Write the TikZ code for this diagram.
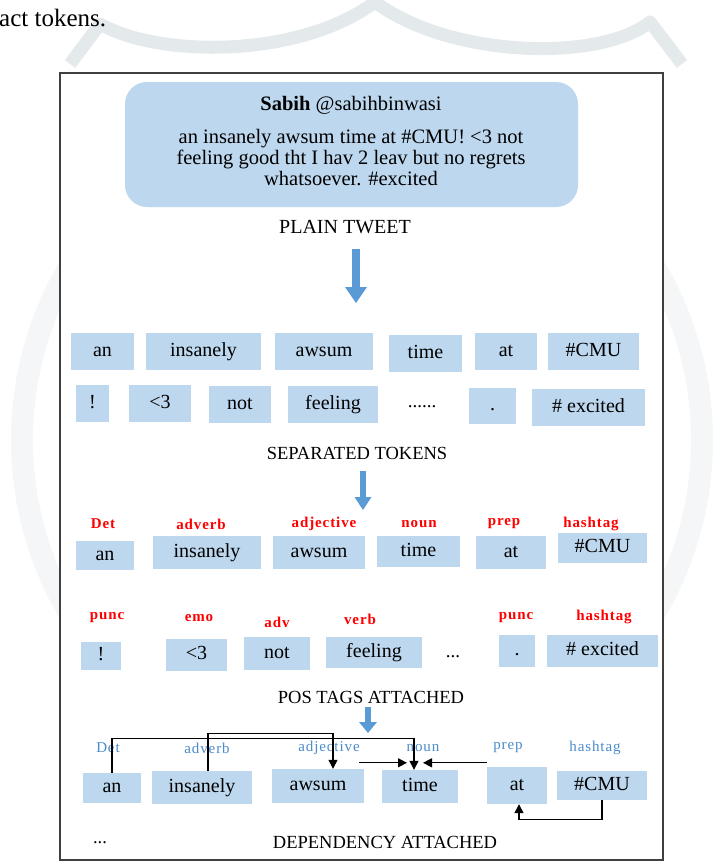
\documentclass[tikz,border=0pt]{standalone}
\usepackage{fontspec}
\setmainfont{Liberation Serif}
\newfontfamily\tagfont[LetterSpace=6]{Liberation Serif}
\usetikzlibrary{arrows.meta,positioning}
\definecolor{tokblue}{HTML}{BDD7EE}
\definecolor{arrowblue}{HTML}{5B9BD5}
\definecolor{tagred}{HTML}{FF0000}
\definecolor{tagblue}{HTML}{4A8BCB}
\definecolor{framegray}{HTML}{404040}
\definecolor{markgray}{HTML}{E4EAEC}
\definecolor{ringgray}{HTML}{F4F6F7}

\begin{document}
\begin{tikzpicture}[x=1pt, y=-1pt,
    tok/.style={fill=tokblue, inner sep=0pt, font=\fontsize{20}{22}\selectfont, text height=13.5pt, text depth=4pt},
    caption/.style={font=\fontsize{18.5}{21}\selectfont},
    postag/.style={font=\tagfont\bfseries\fontsize{15}{17}\selectfont, text=tagred},
    deptag/.style={font=\tagfont\fontsize{15}{17}\selectfont, text=tagblue},
    bigarrow/.style={draw=arrowblue},
    dep/.style={draw=black, line width=1.3pt, -{Triangle[width=9pt,length=9pt]}}
]
    \useasboundingbox (0,0) rectangle (725,865);

    % Watermark behind the page
    \draw[ringgray, line width=22pt] (362,440) circle (340);
    \draw[markgray, line width=13pt, line join=round]
        (70,64) -- (100,24) .. controls (160,58) and (300,58) .. (375,2)
        .. controls (450,58) and (600,62) .. (650,22) -- (682,64);
    \node[anchor=base west, inner sep=0pt, font=\fontsize{25}{28}\selectfont] (context) at (-1,26) {act tokens.};

    % Frame
    \draw[framegray, line width=1.5pt, fill=white] (60,73) rectangle (663,860);

    % Tweet
    \node[fill=tokblue, rounded corners=22pt, minimum width=453pt, minimum height=125pt, inner sep=0pt] (bubble) at (351.5,144.5) {};
    \node[align=center, font=\fontsize{20.5}{21}\selectfont] (tweet) at (351,141) {
        \textbf{Sabih} @sabihbinwasi\\[12pt]
        an insanely awsum time at \#CMU! <3 not\\
        feeling good tht I hav 2 leav but no regrets\\
        whatsoever. \#excited
    };
    \node[caption, font=\fontsize{20}{22}\selectfont] (plain) at (345,227) {PLAIN TWEET};

    \coordinate (arr1s) at (356,249);
    \coordinate (arr1e) at (356,303);
    \draw[bigarrow, line width=8pt, -{Triangle[width=22pt,length=16pt,line width=0pt]}] (arr1s) -- (arr1e);

    % Separated tokens
    \node[tok, minimum width=63pt, minimum height=37pt] (an1) at (102.5,351.5) {an};
    \node[tok, minimum width=115pt, minimum height=37pt] (ins1) at (203.5,351.5) {insanely};
    \node[tok, minimum width=98pt, minimum height=37pt] (aws1) at (324,351.5) {awsum};
    \node[tok, minimum width=73pt, minimum height=37pt] (time1) at (425.5,353.5) {time};
    \node[tok, minimum width=62pt, minimum height=37pt] (at1) at (506,351.5) {at};
    \node[tok, minimum width=91pt, minimum height=37pt] (cmu1) at (593.5,351.5) {\#CMU};

    \node[tok, minimum width=33pt, minimum height=37pt] (excl2) at (92.5,403.5) {!};
    \node[tok, minimum width=62pt, minimum height=37pt] (emo2) at (160,403.5) {<3};
    \node[tok, minimum width=62pt, minimum height=37pt] (not2) at (240,404.5) {not};
    \node[tok, minimum width=90pt, minimum height=37pt] (feel2) at (333,404.5) {feeling};
    \node[font=\fontsize{19}{21}\selectfont] (dots2) at (422,407) {......};
    \node[tok, minimum width=47pt, minimum height=36pt] (stop2) at (492.5,406) {.};
    \node[tok, minimum width=113pt, minimum height=37pt] (exc2) at (588.5,407.5) {\# excited};

    \node[caption] (septok) at (357,453) {SEPARATED TOKENS};

    \coordinate (arr2s) at (363,471);
    \coordinate (arr2e) at (363,510);
    \draw[bigarrow, line width=6pt, -{Triangle[width=17pt,length=13pt,line width=0pt]}] (arr2s) -- (arr2e);

    % POS tags
    \node[postag] (det3) at (103,524) {Det};
    \node[postag] (adverb3) at (201,524) {adverb};
    \node[postag] (adj3) at (324,524) {adjective};
    \node[postag] (noun3) at (419,524) {noun};
    \node[postag] (prep3) at (504,524) {prep};
    \node[postag] (hash3) at (591,524) {hashtag};

    \node[tok, minimum width=58pt, minimum height=29pt] (an3) at (105,555.5) {an};
    \node[tok, minimum width=108pt, minimum height=33pt] (ins3) at (207,552.5) {insanely};
    \node[tok, minimum width=92pt, minimum height=33pt] (aws3) at (319,552.5) {awsum};
    \node[tok, minimum width=83pt, minimum height=31pt] (time3) at (418.5,551.5) {time};
    \node[tok, minimum width=70pt, minimum height=33pt] (at3) at (511,552.5) {at};
    \node[tok, minimum width=89pt, minimum height=30pt] (cmu3) at (602.5,548) {\#CMU};

    \node[postag] (punc4) at (107,618) {punc};
    \node[postag] (emo4) at (199,618) {emo};
    \node[postag] (adv4) at (277,622) {adv};
    \node[postag] (verb4) at (360,619) {verb};
    \node[postag] (puncb4) at (516,618) {punc};
    \node[postag] (hash4) at (604,617) {hashtag};

    \node[tok, minimum width=40pt, minimum height=28pt] (excl4) at (101,656) {!};
    \node[tok, minimum width=61pt, minimum height=32pt] (emob4) at (196.5,655) {<3};
    \node[tok, minimum width=66pt, minimum height=33pt] (not4) at (277,653.5) {not};
    \node[tok, minimum width=96pt, minimum height=31pt] (feel4) at (374,652.5) {feeling};
    \node[font=\fontsize{19}{21}\selectfont] (dots4) at (453,657) {...};
    \node[tok, minimum width=36pt, minimum height=32pt] (stop4) at (517,651) {.};
    \node[tok, minimum width=111pt, minimum height=32pt] (exc4) at (602.5,651) {\# excited};

    \node[caption] (posatt) at (371,697) {POS TAGS ATTACHED};

    \coordinate (arr3s) at (368,707);
    \coordinate (arr3e) at (368,733);
    \draw[bigarrow, line width=6pt, -{Triangle[width=18pt,length=11pt,line width=0pt]}] (arr3s) -- (arr3e);

    % Dependencies
    \node[deptag] (det5) at (108,748) {Det};
    \node[deptag] (adverb5) at (207,748) {adverb};
    \node[deptag] (adj5) at (329,748) {adjective};
    \node[deptag] (noun5) at (423,748) {noun};
    \node[deptag] (prep5) at (508,748) {prep};
    \node[deptag] (hash5) at (595,748) {hashtag};

    \node[tok, minimum width=58pt, minimum height=30pt] (an5) at (112,788) {an};
    \node[tok, minimum width=100pt, minimum height=33pt] (ins5) at (202,787.5) {insanely};
    \node[tok, minimum width=92pt, minimum height=34pt] (aws5) at (318,786) {awsum};
    \node[tok, minimum width=76pt, minimum height=33pt] (time5) at (420,786.5) {time};
    \node[tok, minimum width=60pt, minimum height=37pt] (at5) at (517,785.5) {at};
    \node[tok, minimum width=90pt, minimum height=29pt] (cmu5) at (602,785.5) {\#CMU};

    \draw[dep] (an5.north) -- ++(0,-34) -| ([xshift=-6pt]time5.north);
    \draw[dep] ([xshift=6pt]ins5.north) -- ++(0,-37) -| ([xshift=15pt]aws5.north);
    \draw[dep] ([xshift=41pt,yshift=6pt]aws5.north) -- ([xshift=-13pt,yshift=7pt]time5.north);
    \draw[dep] ([yshift=4pt]at5.north west) -- ([xshift=3pt,yshift=7pt]time5.north);
    \draw[dep] (cmu5.south) -- ++(0,19) -| ([xshift=2pt]at5.south);

    \node[caption] (dots5) at (100,843) {...};
    \node[caption] (depatt) at (385,842) {DEPENDENCY ATTACHED};
\end{tikzpicture}
\end{document}
